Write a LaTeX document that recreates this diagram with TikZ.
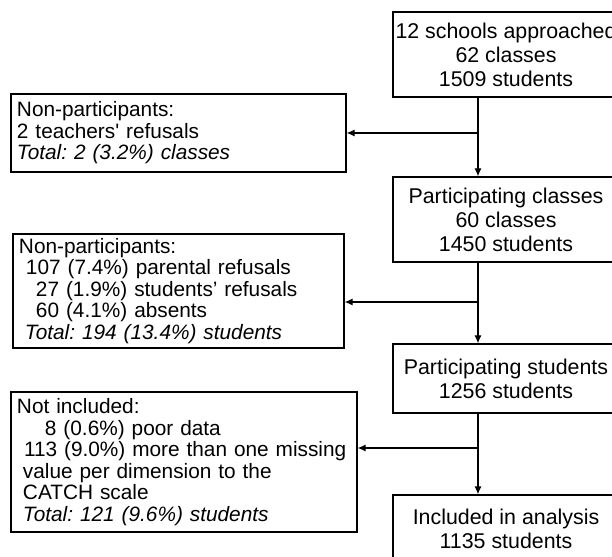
\documentclass[tikz,border=0pt]{standalone}
\usepackage{fontspec}
\setmainfont{Liberation Sans}
\usepackage{tikz}
\usetikzlibrary{arrows.meta}
\frenchspacing

\tikzset{
    mainbox/.style={draw, line width=0.9pt, align=center, minimum width=5.65cm, inner sep=0pt, font=\fontsize{15.2}{17}\selectfont},
    sidebox/.style={draw, line width=0.9pt, align=left, inner xsep=0.15cm, inner ysep=0pt, font=\fontsize{14.8}{15.3}\selectfont},
    flow/.style={-{Latex[length=0.2cm, width=0.18cm]}, line width=0.9pt}
}

\begin{document}
\begin{tikzpicture}
    \useasboundingbox (0,0) rectangle (15.3,-13.925);

    \node[mainbox, minimum height=2.125cm] (approached) at (12.65,-1.3625) {12 schools approached\\62 classes\\1509 students};
    \node[mainbox, minimum height=2.125cm] (classes) at (12.65,-5.4875) {Participating classes\\60 classes\\1450 students};
    \node[mainbox, minimum height=1.725cm] (students) at (12.65,-9.4625) {Participating students\\1256 students};
    \node[mainbox, minimum height=1.675cm] (analysis) at (12.65,-13.2125) {Included in analysis\\1135 students};

    \node[sidebox, text width=8.075cm, minimum height=1.95cm] (teachers) at (4.4625,-3.325) {Non-participants:\\2 teachers\textquotesingle{} refusals\\\textit{Total: 2 (3.2\%) classes}};
    \node[sidebox, text width=7.975cm, minimum height=2.85cm] (refusals) at (4.4625,-7.275) {Non-participants:\\\hspace*{0.175cm}107 (7.4\%) parental refusals\\\hspace*{0.425cm}27 (1.9\%) students’ refusals\\\hspace*{0.425cm}60 (4.1\%) absents\\\hspace*{0.15cm}\textit{Total: 194 (13.4\%) students}};
    \node[sidebox, text width=8.35cm, minimum height=3.5cm] (excluded) at (4.6,-11.55) {Not included:\\\hspace*{0.7cm}8 (0.6\%) poor data\\\hspace*{0.175cm}113 (9.0\%) more than one missing\\\hspace*{0.15cm}value per dimension to the\\\hspace*{0.15cm}CATCH scale\\\hspace*{0.15cm}\textit{Total: 121 (9.6\%) students}};

    \coordinate (spine) at (11.95,0);
    \coordinate (split1) at (11.95,-3.325);
    \coordinate (split2) at (11.95,-7.55);
    \coordinate (split3) at (11.95,-11.2);

    \draw[flow] (approached.south -| spine) -- (classes.north -| spine);
    \draw[flow] (classes.south -| spine) -- (students.north -| spine);
    \draw[flow] (students.south -| spine) -- (analysis.north -| spine);

    \draw[flow] (split1) -- (split1 -| teachers.east);
    \draw[flow] (split2) -- (split2 -| refusals.east);
    \draw[flow] (split3) -- (split3 -| excluded.east);
\end{tikzpicture}
\end{document}
